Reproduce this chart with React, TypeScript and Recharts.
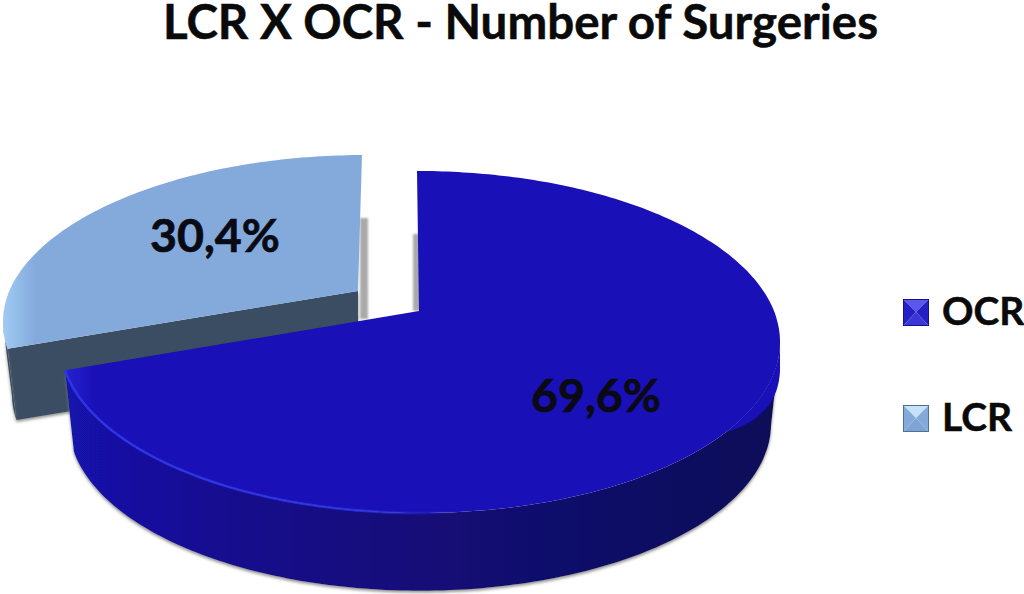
import React from 'react'
import { PieChart, Pie, Legend } from 'recharts'

const sliceNames = ['LCR', 'OCR']
const sliceValues = [30.4, 69.6]
const legendOrder = ['OCR', 'LCR']
const chartTitle = 'LCR X OCR - Number of Surgeries'

const chartData = sliceNames.map((name, i) => ({ name, value: sliceValues[i] }))
const startAngle = 90 + sliceValues[0] * 3.6

const FONT = 'Lato, Carlito, sans-serif'

// 3D look per slice: apex offset from the pie centre, ellipse, wall depth
const look: Record<string, any> = {
  OCR: {
    ax: 0, ay: 0, ecx: 1, ecy: 31, rx: 360, ry: 171, depth: 82, lean: -2,
    top: ['#2622d0', '#1a10b8'], topStop: '4%',
    wall: ['#1512ac', '#140e8c', '#120a74', '#0e0858'],
    rim: '#2f36ea', lip: 26,
    shadeX: -6, labelX: 596, labelY: 394
  },
  LCR: {
    ax: -61, ay: -20, ecx: 3, ecy: 31, rx: 358, ry: 167, depth: 72, lean: 4,
    top: ['#a0caf3', '#84aadc'], topStop: '9%',
    wall: ['#3d4f64', '#3a4d62', '#3a4d62', '#3a4d62'],
    rim: null, lip: 0,
    shadeX: 5, labelX: 215, labelY: 234
  }
}

const RAD = Math.PI / 180
const SQUASH = 0.975

function rayPoint(cx: number, cy: number, s: any, deg: number) {
  const ax = cx + s.ax
  const ay = cy + s.ay
  const cu = s.ecx / s.rx
  const cv = s.ecy / s.ry
  const dx = Math.cos(deg * RAD)
  const dy = -Math.sin(deg * RAD)
  const dc = dx * cu + dy * cv
  const t = dc + Math.sqrt(dc * dc - cu * cu - cv * cv + 1)
  return { x: ax + t * dx * s.rx + s.lean * Math.max(0, -dy), y: ay + t * dy * s.ry }
}

function lower(p: { x: number; y: number }, cx: number, cy: number, s: any) {
  const ex = cx + s.ax + s.ecx
  const ey = cy + s.ay + s.ecy
  return { x: ex + (p.x - ex) * SQUASH, y: ey + (p.y - ey) * SQUASH + s.depth }
}

const toPath = (pts: { x: number; y: number }[], close = true) =>
  'M' + pts.map(p => `${p.x.toFixed(1)},${p.y.toFixed(1)}`).join('L') + (close ? 'Z' : '')

function Slice(props: any) {
  const { cx, cy, startAngle: a0, endAngle: a1, name } = props
  const s = look[name]
  const apex = { x: cx + s.ax, y: cy + s.ay }
  const arc: { x: number; y: number }[] = []
  const n = Math.ceil(Math.abs(a1 - a0))
  for (let i = 0; i <= n; i++) {
    arc.push(rayPoint(cx, cy, s, a0 + ((a1 - a0) * i) / n))
  }
  const ey = apex.y + s.ecy
  const ex = apex.x + s.ecx
  const face = [apex, ...arc]
  const outer = arc.filter(p => p.y >= ey)
  const id = `g${name}`
  // the point of the slice that sits at twelve o'clock, for the thin grey sliver
  const topPt = name === 'OCR' ? arc[0] : arc[arc.length - 1]
  // the top face rounds over the wall near the right end
  const lipPts = outer.filter(p => (p.x - ex) / s.rx > 0.85)

  return (
    <g>
      <defs>
        <linearGradient id={`${id}t`} x1="0" y1="0" x2="1" y2="0">
          <stop offset="0%" stopColor={s.top[0]} />
          <stop offset={s.topStop} stopColor={s.top[1]} />
        </linearGradient>
        <linearGradient id={`${id}w`} x1="0" y1="0" x2="1" y2="0">
          <stop offset="0%" stopColor={s.wall[0]} />
          <stop offset="25%" stopColor={s.wall[1]} />
          <stop offset="55%" stopColor={s.wall[2]} />
          <stop offset="100%" stopColor={s.wall[3]} />
        </linearGradient>
        <linearGradient id={`${id}r`} x1="0" y1="0" x2="1" y2="0">
          <stop offset="0%" stopColor={s.rim || '#fff'} stopOpacity={0.9} />
          <stop offset="42%" stopColor={s.rim || '#fff'} stopOpacity={0.8} />
          <stop offset="56%" stopColor={s.rim || '#fff'} stopOpacity={0} />
        </linearGradient>
        <filter id={`${id}s`} x="-5%" y="-5%" width="110%" height="115%">
          <feDropShadow dx="0" dy="2" stdDeviation="1.5" floodColor="#777" floodOpacity="0.8" />
        </filter>
        <filter id={`${id}b`} x="-50%" y="-5%" width="200%" height="110%">
          <feGaussianBlur stdDeviation="0.8" />
        </filter>
      </defs>
      {/* grey sliver beside the vertical cut */}
      <rect
        x={Math.min(apex.x, apex.x + s.shadeX) + (name === 'LCR' ? 2 : 0)}
        y={topPt.y + 63}
        width={Math.abs(s.shadeX) + 3}
        height={apex.y - topPt.y - 63 + (name === 'LCR' ? 28 : 0)}
        fill="#aaaaaa"
        filter={`url(#${id}b)`}
      />
      {name === 'LCR' && (
        <path
          d={toPath([
            arc[0],
            apex,
            lower(apex, cx, cy, s),
            lower(arc[0], cx, cy, s)
          ])}
          fill={s.wall[1]}
          filter={`url(#${id}s)`}
        />
      )}
      {outer.length > 1 && (
        <path
          d={toPath([...outer, ...outer.map(p => lower(p, cx, cy, s)).reverse()])}
          fill={`url(#${id}w)`}
          filter={`url(#${id}s)`}
        />
      )}
      <path d={toPath(face)} fill={`url(#${id}t)`} />
      {s.lip > 0 && lipPts.length > 1 && (
        <path
          d={toPath([
            ...lipPts,
            ...lipPts
              .map(p => ({ x: p.x, y: p.y + (((p.x - ex) / s.rx - 0.85) / 0.15) * s.lip }))
              .reverse()
          ])}
          fill={s.top[1]}
        />
      )}
      {s.rim && outer.length > 1 && (
        <path d={toPath(outer, false)} fill="none" stroke={`url(#${id}r)`} strokeWidth={2.5} />
      )}
    </g>
  )
}

function SliceLabel(props: any) {
  const s = look[props.name]
  return (
    <text
      x={s.labelX}
      y={s.labelY}
      textAnchor="middle"
      dominantBaseline="central"
      fontFamily={FONT}
      fontWeight={700}
      fontSize={46.5}
      fill="#0a0a14"
      stroke="#0a0a14"
      strokeWidth={0.7}
    >
      {props.value.toFixed(1).replace('.', ',')}%
    </text>
  )
}

function LegendBox({ name }: { name: string }) {
  const c =
    name === 'OCR'
      ? { top: '#5a58ec', left: '#2620c4', right: '#2620c4', bottom: '#3a36d8', edge: '#15108c' }
      : { top: '#c4e2fa', left: '#84aadc', right: '#84aadc', bottom: '#7ea4d4', edge: '#50708c' }
  return (
    <svg width={26} height={27} style={{ display: 'block' }}>
      <polygon points="0,0 26,0 13,13" fill={c.top} />
      <polygon points="0,0 13,13 0,27" fill={c.left} />
      <polygon points="26,0 26,27 13,13" fill={c.right} />
      <polygon points="0,27 26,27 13,13" fill={c.bottom} />
      <rect x={0.5} y={0.5} width={25} height={26} fill="none" stroke={c.edge} />
    </svg>
  )
}

function ChartLegend() {
  return (
    <div style={{ position: 'relative', width: 121, height: 140 }}>
      {legendOrder.map((name, i) => (
        <div
          key={name}
          style={{
            position: 'absolute',
            left: 0,
            top: i * 106,
            display: 'flex',
            alignItems: 'center',
            height: 27
          }}
        >
          <LegendBox name={name} />
          <span
            style={{
              marginLeft: 13,
              position: 'relative',
              top: -2,
              fontFamily: FONT,
              fontWeight: 700,
              fontSize: 39,
              color: '#0a0a0a',
              lineHeight: '27px',
              WebkitTextStroke: '0.5px #0a0a0a'
            }}
          >
            {name}
          </span>
        </div>
      ))}
    </div>
  )
}

export default function App() {
  return (
    <div style={{ position: 'absolute', left: 0, top: 0, width: 1024, height: 594, background: '#fff', overflow: 'hidden' }}>
      <div
        style={{
          position: 'absolute',
          left: 0,
          width: 1041,
          top: 0,
          textAlign: 'center',
          fontFamily: FONT,
          fontWeight: 700,
          fontSize: 47.5,
          lineHeight: '42px',
          color: '#0a0a0a',
          whiteSpace: 'nowrap',
          WebkitTextStroke: '0.5px #0a0a0a'
        }}
      >
        {chartTitle}
      </div>
      <PieChart width={1024} height={594} margin={{ top: 0, right: 0, bottom: 0, left: 0 }}>
        <Pie
          data={chartData}
          dataKey="value"
          nameKey="name"
          cx={419}
          cy={311}
          outerRadius={360}
          startAngle={startAngle}
          endAngle={startAngle - 360}
          stroke="none"
          shape={Slice}
          label={SliceLabel}
          labelLine={false}
          isAnimationActive={false}
        />
        <Legend
          content={ChartLegend}
          wrapperStyle={{ position: 'absolute', left: 903, top: 299, width: 121, bottom: 'auto' }}
        />
      </PieChart>
    </div>
  )
}
